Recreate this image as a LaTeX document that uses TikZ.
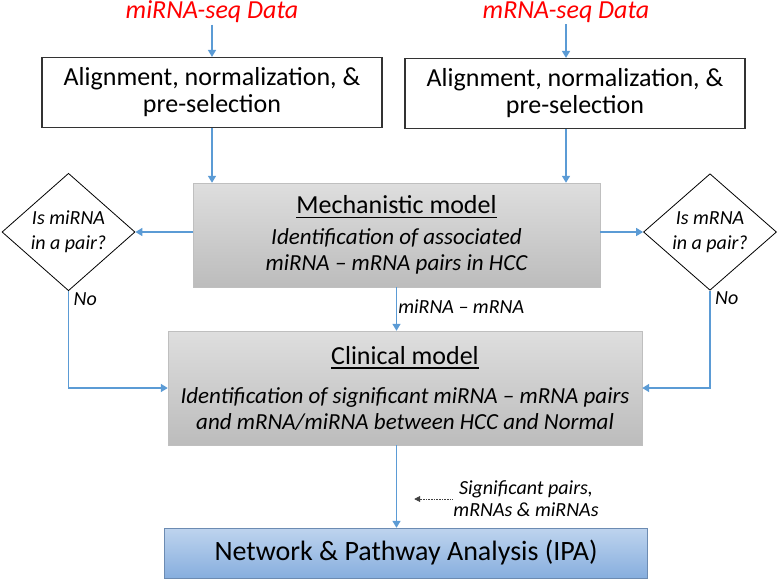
\documentclass[tikz,border=0pt]{standalone}
\usepackage{fontspec}
\setmainfont{Carlito}
\usetikzlibrary{shapes.geometric, arrows.meta}
\usetikzlibrary{positioning}
\definecolor{flowblue}{RGB}{91,155,213}
\definecolor{modeltop}{RGB}{222,222,222}
\definecolor{modelbottom}{RGB}{188,188,188}
\definecolor{ipatop}{RGB}{190,212,238}
\definecolor{ipabottom}{RGB}{135,174,222}
\tikzstyle{source} = [text=red, font=\itshape\fontsize{26}{31}\selectfont, inner sep=1.5pt]
\tikzstyle{prep} = [rectangle, draw=black!80, line width=1.2pt, minimum width=340pt, minimum height=70pt, align=center, font=\fontsize{26}{27}\selectfont]
\tikzstyle{model} = [rectangle, draw=black!25, top color=modeltop, bottom color=modelbottom, align=center, font=\itshape\fontsize{23}{26}\selectfont]
\tikzstyle{ipabox} = [rectangle, draw=ipabottom!80!black, top color=ipatop, bottom color=ipabottom, font=\fontsize{28}{32}\selectfont, minimum width=483pt, minimum height=50pt]
\tikzstyle{decision} = [diamond, draw=black, line width=0.8pt, minimum width=133pt, minimum height=110pt, inner sep=0pt, align=center, font=\itshape\fontsize{20}{25}\selectfont]
\tikzstyle{note} = [text=black, font=\itshape\fontsize{20}{22}\selectfont, align=center, inner sep=1pt]
\tikzstyle{flow} = [line width=1.5pt, flowblue, -{Triangle[length=7pt, width=8pt]}]
\tikzstyle{pointer} = [line width=0.6pt, black!75, densely dotted, -{Triangle[length=6pt, width=6pt]}]
\newcommand{\modeltitle}[1]{{\upshape\fontsize{26}{31}\selectfont\setbox0\hbox{#1}\rlap{\rule[-4.5pt]{\wd0}{1.3pt}}\box0}}

\begin{document}
\begin{tikzpicture}[x=1pt, y=-1pt]
    \useasboundingbox (0,0) rectangle (778,582);

    % data sources and preprocessing
    \node (midata) [source] at (212,12) {miRNA-seq Data};
    \node (mdata) [source] at (566,12) {mRNA-seq Data};

    \node (prepmi) [prep] at (212,92.5) {Alignment, normalization, \&\\pre-selection};
    \node (prepm) [prep] at (575,93.5) {Alignment, normalization, \&\\pre-selection};

    % models
    \node (mech) [model, minimum width=407pt, minimum height=104pt] at (396.5,235)
        {\modeltitle{Mechanistic model}\\[5pt] Identification of associated\\ miRNA -- mRNA pairs in HCC};
    \node (clinical) [model, minimum width=474pt, minimum height=114pt] at (405,388)
        {\modeltitle{Clinical model}\\[13pt] Identification of significant miRNA -- mRNA pairs\\ and mRNA/miRNA between HCC and Normal};
    \node (ipa) [ipabox] at (406,553) {Network \& Pathway Analysis (IPA)};

    % pair checks
    \node (askmi) [decision] at (68.5,232) {Is miRNA\\in a pair?};
    \node (askm) [decision] at (710,232) {Is mRNA\\in a pair?};
    \node (nomi) [note, below right=0pt and 4pt of askmi.south] {No};
    \node (nom) [note, below right=0pt and 4pt of askm.south] {No};

    \draw [flow] (midata) -- (prepmi);
    \draw [flow] (mdata.south) -- (mdata.south |- prepm.north);
    \draw [flow] (prepmi.south) -- (prepmi.south |- mech.north);
    \draw [flow] (prepm.south -| mdata.south) -- (mdata.south |- mech.north);

    \draw [flow] (mech.west |- askmi.east) -- (askmi.east);
    \draw [flow] (mech.east |- askm.west) -- (askm.west);
    \draw [flow] (askmi.south) |- (clinical.west);
    \draw [flow] (askm.south) |- (clinical.east);

    \draw [flow] (mech.south) -- node (pairlbl) [note, right, pos=0.45] {miRNA -- mRNA} (mech.south |- clinical.north);
    \draw [flow] (mech.south |- clinical.south) -- (mech.south |- ipa.north);

    % output hint
    \node (siglbl) [note] at (526,499) {Significant pairs,\\mRNAs \& miRNAs};
    \coordinate [left=38pt of siglbl.west] (sigtip);
    \draw [pointer] (siglbl.west) -- (sigtip);

\end{tikzpicture}
\end{document}
